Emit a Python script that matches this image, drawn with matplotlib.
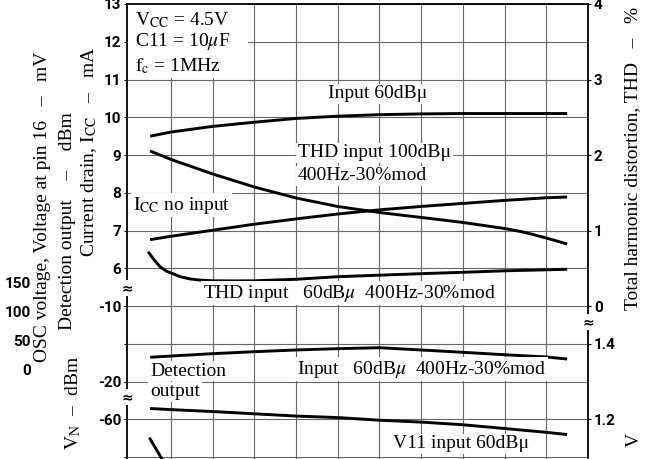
import matplotlib
matplotlib.use('Agg')
import matplotlib.pyplot as plt
from matplotlib.patches import Rectangle

W, H, DPI = 658, 459, 100

# ---------------- data ----------------
x_main = [0.5, 1, 2, 3, 4, 5, 6, 7, 8, 9, 10, 10.5]
icc_input60 = [9.50, 9.61, 9.76, 9.87, 9.97, 10.03, 10.07, 10.09, 10.10, 10.10, 10.10, 10.10]
icc_no_input = [6.76, 6.85, 7.01, 7.17, 7.31, 7.44, 7.55, 7.64, 7.72, 7.80, 7.87, 7.89]
x_thd100 = [0.5, 1, 2, 3, 4, 5, 6, 7, 8, 9, 9.5, 10, 10.5]
thd_input100 = [2.054, 1.942, 1.750, 1.577, 1.432, 1.319, 1.240, 1.174, 1.108, 1.028, 0.975, 0.902, 0.823]
x_thd60 = [0.45, 0.6, 0.74, 0.9, 1.0, 1.22, 1.46, 1.7, 2, 2.5, 3, 4, 5, 6, 7, 8, 9, 10, 10.5]
thd_input60 = [0.72, 0.61, 0.52, 0.46, 0.44, 0.39, 0.36, 0.345, 0.336, 0.334, 0.336,
               0.356, 0.39, 0.41, 0.43, 0.448, 0.468, 0.481, 0.488]
det_output = [-16.77, -16.6, -16.29, -16.03, -15.8, -15.63, -15.5, -15.8, -16.11, -16.43, -16.73, -17.0]
v11_input60 = [1.229, 1.226, 1.221, 1.215, 1.209, 1.205, 1.198, 1.193, 1.186, 1.176, 1.166, 1.160]
x_vn = [0.48, 0.78, 1.05]
vn_values = [-64.8, -70.4, -75.2]

icc_ticks = [6, 7, 8, 9, 10, 11, 12, 13]
thd_ticks = [0, 1, 2, 3, 4]
v_ticks = [1.2, 1.4]
det_ticks = [-20, -10]
vn_ticks = [-60]
osc_ticks = [0, 50, 100, 150]

# ---------------- style ----------------
plt.rcParams['font.family'] = ['Liberation Serif', 'DejaVu Serif']
plt.rcParams['mathtext.fontset'] = 'stix'
plt.rcParams['axes.unicode_minus'] = False

fig = plt.figure(figsize=(W / DPI, H / DPI), dpi=DPI)
top_px, bot_px, left_px, right_px = 4, 495, 127, 588
ax = fig.add_axes([left_px / W, (H - bot_px) / H, (right_px - left_px) / W, (bot_px - top_px) / H])
ax.set_xlim(-0.055, 11)
ax.set_ylim(0, 13)
ax.set_xticks(range(1, 11))
ax.tick_params(axis='x', length=0, labelbottom=False)
ax.set_yticks(icc_ticks)
ax.set_yticks(range(0, 14), minor=True)
ax.set_axisbelow(True)
ax.grid(True, which='both', color='#666666', lw=0.8)
ax.tick_params(axis='y', which='both', direction='out', length=2.2, width=0.8, pad=2,
               labelsize=11, right=True, labelright=False)
for s in ax.spines.values():
    s.set_linewidth(1.3)
ax.spines['bottom'].set_visible(False)

TICK_FS = 11


def style_ticks(a):
    for lbl in a.get_yticklabels():
        lbl.set_fontfamily('Roboto')
        lbl.set_fontweight('bold')
        lbl.set_fontsize(TICK_FS)


style_ticks(ax)


def twin(lim, ticks, side, length=2.2, pad=2, outward=None):
    t = ax.twinx()
    if outward is not None:
        t.spines[side].set_position(('outward', outward))
    t.set_ylim(*lim)
    if side == 'left':
        t.yaxis.tick_left()
    else:
        t.yaxis.tick_right()
    t.set_yticks(ticks)
    for s in t.spines.values():
        s.set_visible(False)
    t.tick_params(axis='y', direction='out', length=length, width=0.8, pad=pad, labelsize=TICK_FS)
    style_ticks(t)
    return t


ax_thd = twin((-2.5, 4), thd_ticks, 'right')
ax_v = twin((1.0, 2.3), v_ticks, 'right')
ax_det = twin((-35, 30), det_ticks, 'left')
ax_vn = twin((-80, 50), vn_ticks, 'left')
ax_osc = twin((-215.6, 631.1), osc_ticks, 'left', length=0, pad=0, outward=69)

# white legend box in the upper left corner
ax.add_patch(Rectangle((-0.055, 11.03), 2.905, 1.97, facecolor='white', edgecolor='none', zorder=1))

LKW = dict(color='black', lw=2.1, solid_capstyle='butt', solid_joinstyle='round')
ax.plot(x_main, icc_input60, **LKW)
ax.plot(x_main, icc_no_input, **LKW)
ax_thd.plot(x_thd100, thd_input100, **LKW)
ax_thd.plot(x_thd60, thd_input60, **LKW)
ax_det.plot(x_main, det_output, **LKW)
ax_v.plot(x_main, v11_input60, **LKW)
ax_vn.plot(x_vn, vn_values, **LKW)


def ftext(x, y, s, **kw):
    return fig.text(x / W, 1 - y / H, s, **kw)


BOX = dict(facecolor='white', edgecolor='none', pad=1.2)
FS = 14

ftext(135, 20, r'$\mathrm{V_{CC}}$ = 4.5V', fontsize=FS, va='center')
ftext(135, 42, r'C11 = 10$\mu$F', fontsize=FS, va='center')
ftext(135, 66, r'$\mathrm{f_c}$ = 1MHz', fontsize=FS, va='center')

ftext(328, 94, 'Input 60dBμ', fontsize=FS, va='center', bbox=BOX)
ftext(298, 153, 'THD input 100dBμ', fontsize=FS, va='center', bbox=BOX)
ftext(298, 176, '400Hz-30%mod', fontsize=FS, va='center', bbox=BOX)
ftext(133, 205, r'$\mathrm{I_{CC}}$ no input', fontsize=FS, va='center', bbox=BOX)
ftext(203, 293, r'THD input   60dB$\mu$  400Hz-30%mod', fontsize=FS, va='center', bbox=BOX)
ftext(150, 371, 'Detection', fontsize=FS, va='center', bbox=BOX)
ftext(150, 392, 'output', fontsize=FS, va='center', bbox=BOX)
ftext(297, 369, r'Input   60dB$\mu$  400Hz-30%mod', fontsize=FS, va='center', bbox=BOX)
ftext(393, 444, 'V11 input 60dBμ', fontsize=FS, va='center', bbox=BOX)

# axis break marks
BRK = dict(ha='center', va='center', fontsize=10, fontweight='bold', family='DejaVu Sans',
           bbox=dict(facecolor='white', edgecolor='none', pad=0.5))
ftext(127, 288, '≈', **BRK)
ftext(127, 397, '≈', **BRK)
ftext(588, 322, '≈', **BRK)

# axis titles
YL = dict(rotation=90, ha='center', fontsize=FS)
ftext(43, 52, 'OSC voltage, Voltage at pin 16   –   mV', va='top', **YL)
ftext(67, 112, 'Detection output    –    dBm', va='top', **YL)
ftext(89, 47, r'Current drain, $\mathrm{I_{CC}}$   –   mA', va='top', **YL)
ftext(73, 356, r'$\mathrm{V_N}$  –  dBm', va='top', **YL)
ftext(633, 7, 'Total harmonic distortion, THD   –   %', va='top', **YL)
ftext(634, 440, 'V', va='center', **YL)

fig.savefig('out.png', dpi=DPI)
